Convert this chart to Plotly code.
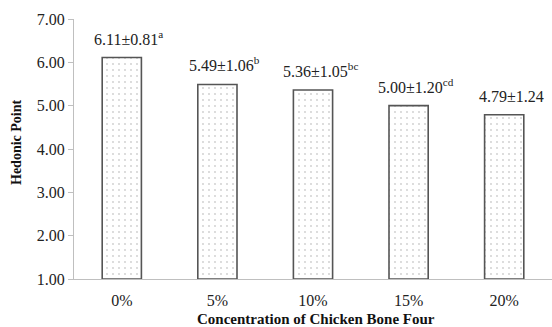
import plotly.graph_objects as go

# Hedonic scores by chicken-bone-flour concentration
categories = ["0%", "5%", "10%", "15%", "20%"]
means = [6.11, 5.49, 5.36, 5.00, 4.79]
sds = [0.81, 1.06, 1.05, 1.20, 1.24]
letters = ["a", "b", "bc", "cd", ""]
y_ticks = [1, 2, 3, 4, 5, 6, 7]

serif = "Liberation Serif, Times New Roman, serif"
axis_grey = "#bfbfbf"

fig = go.Figure()
fig.add_trace(go.Bar(
    x=categories,
    y=[m - 1 for m in means],
    base=1,
    width=0.41,
    marker=dict(
        color="white",
        line=dict(color="#555555", width=1.6),
        pattern=dict(shape=".", size=6, solidity=0.07, fgcolor="#9a9a9a", bgcolor="white"),
    ),
    hoverinfo="skip",
))

for cat, m, s, l in zip(categories, means, sds, letters):
    label = f"{m:.2f}±{s:.2f}" + (f"<sup>{l}</sup>" if l else "")
    fig.add_annotation(
        x=cat, y=m, text=label, showarrow=False,
        yanchor="bottom", yshift=8, xshift=7,
        font=dict(family=serif, size=16, color="#222222"),
    )

# axis titles, placed as annotations
fig.add_annotation(
    xref="paper", yref="paper", x=0, y=0.527, xshift=-57,
    xanchor="center", yanchor="middle", textangle=-90, showarrow=False,
    text="<b>Hedonic Point</b>",
    font=dict(family=serif, size=14, color="#111111"),
)
fig.add_annotation(
    xref="paper", yref="paper", x=0.507, y=0, yshift=-40,
    xanchor="center", yanchor="middle", showarrow=False,
    text="<b>Concentration of Chicken Bone Four</b>",
    font=dict(family=serif, size=15, color="#111111"),
)

fig.update_layout(
    width=552, height=327,
    margin=dict(l=74, r=0, t=19, b=48),
    plot_bgcolor="white", paper_bgcolor="white",
    showlegend=False,
    bargap=0.59,
)
fig.update_xaxes(
    range=[-0.5, 4.5],
    showline=True, linecolor=axis_grey, linewidth=1,
    ticks="", showgrid=False,
    ticklabelstandoff=7,
    tickfont=dict(family=serif, size=16, color="#222222"),
)
fig.update_yaxes(
    range=[1, 7], tickvals=y_ticks,
    ticktext=[f"{v:.2f}" for v in y_ticks],
    showline=True, linecolor=axis_grey, linewidth=1,
    ticks="outside", ticklen=5, tickcolor=axis_grey,
    showgrid=False, zeroline=False,
    tickfont=dict(family=serif, size=16, color="#222222"),
)

fig.write_html("out.html")
